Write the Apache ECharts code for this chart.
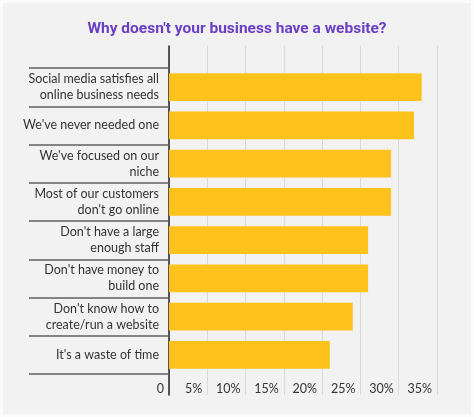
<!DOCTYPE html>
<html>
<head>
    <meta charset="utf-8">
    <title>Why doesn't your business have a website?</title>
    <script src="https://cdn.jsdelivr.net/npm/echarts@6/dist/echarts.min.js"></script>
    <style>
        html, body { margin: 0; padding: 0; background: #fbfbfb; }
        #main {
            position: absolute;
            left: 3px;
            top: 3px;
            width: 468px;
            height: 411px;
        }
    </style>
</head>
<body>
    <div id="main"></div>
    <script type="text/javascript">
        // survey answers, top to bottom
        var reasons = [
            'Social media satisfies all\nonline business needs',
            "We've never needed one",
            "We've focused on our\nniche",
            'Most of our customers\ndon\'t go online',
            "Don't have a large\nenough staff",
            "Don't have money to\nbuild one",
            "Don't know how to\ncreate/run a website",
            "It's a waste of time"
        ];
        var shares = [33, 32, 29, 29, 26, 26, 24, 21];
        var axisMax = 35;
        var axisStep = 5;

        var myChart = echarts.init(document.getElementById('main'));

        var option = {
            backgroundColor: '#f2f2f2',
            animation: false,
            title: {
                text: "Why doesn't your business have a website?",
                left: 'center',
                top: 13,
                textStyle: {
                    color: '#6a3fc6',
                    fontFamily: 'Roboto',
                    fontWeight: 'bold',
                    fontSize: 15.5
                }
            },
            grid: [
                { left: 166, right: 34, top: 65, height: 306 },
                { left: 166, right: 34, top: 43, height: 349 }
            ],
            xAxis: [{
                type: 'value',
                gridIndex: 0,
                min: 0,
                max: axisMax,
                interval: axisStep,
                axisLine: { show: false },
                axisTick: { show: false },
                splitLine: { show: false },
                axisLabel: {
                    align: 'right',
                    margin: 8,
                    padding: [0, 5, 0, 0],
                    color: '#333',
                    fontFamily: 'Lato',
                    fontSize: 12.5,
                    showMaxLabel: true,
                    formatter: function (v) { return v === 0 ? '0' : v + '%'; }
                }
            }, {
                // only for the tall grid lines
                type: 'value',
                gridIndex: 1,
                min: 0,
                max: axisMax,
                interval: axisStep,
                axisLine: { show: false },
                axisTick: { show: false },
                axisLabel: { show: false },
                splitLine: { lineStyle: { color: '#d9d9d9', width: 1 } }
            }],
            yAxis: [{
                type: 'category',
                gridIndex: 0,
                data: reasons,
                inverse: true,
                axisLine: { show: false },
                axisTick: {
                    show: true,
                    length: 140,
                    lineStyle: { color: '#606060', width: 1.5 }
                },
                axisLabel: {
                    margin: 10,
                    color: '#333',
                    fontFamily: 'Lato',
                    fontSize: 12.5,
                    lineHeight: 16,
                    align: 'right'
                }
            }, {
                type: 'value',
                gridIndex: 1,
                axisLine: { show: true, lineStyle: { color: '#222', width: 1.5 } },
                axisTick: { show: false },
                axisLabel: { show: false },
                splitLine: { show: false }
            }],
            series: [{
                type: 'bar',
                xAxisIndex: 0,
                yAxisIndex: 0,
                data: shares,
                barCategoryGap: '28%',
                itemStyle: { color: '#fdc21c' },
                z: 3
            }]
        };
        myChart.setOption(option);
    </script>
</body>
</html>
